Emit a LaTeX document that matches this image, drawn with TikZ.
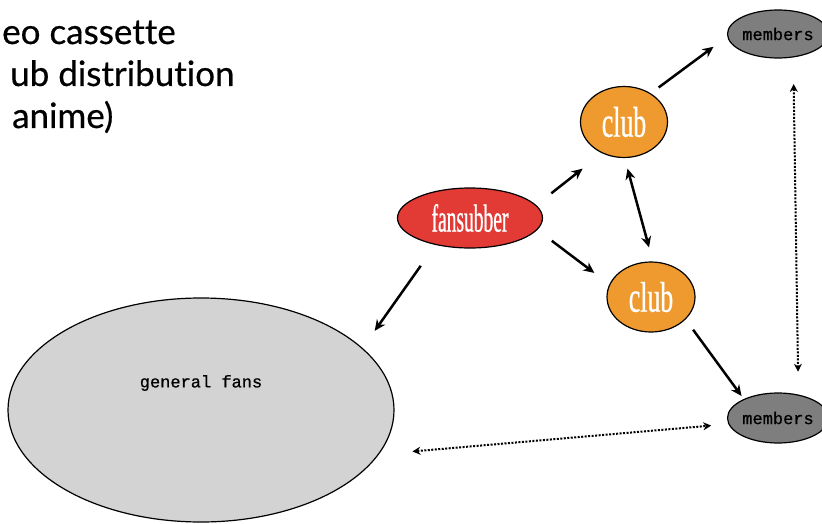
\documentclass[tikz,border=0pt]{standalone}
\usepackage{fontspec}
\usetikzlibrary{shapes.geometric,arrows.meta}
\newfontfamily\titlefont[Ligatures=NoCommon,FakeBold=0.5]{Lato}
\newfontfamily\fanfont[FakeStretch=0.5,FakeBold=0.6]{Liberation Serif}
\newfontfamily\clubfont[FakeStretch=0.6,FakeBold=0.6]{Liberation Serif}
\newfontfamily\memfont[FakeBold=0.8]{Liberation Mono}
\definecolor{fanred}{HTML}{E23B36}
\definecolor{cluborange}{HTML}{EE9A2E}
\definecolor{memgray}{HTML}{7E7E7E}
\definecolor{fangray}{HTML}{D3D3D3}
\begin{document}
\begin{tikzpicture}[x=1pt,y=-1pt,
  blob/.style={ellipse, draw=black, line width=1.2pt, inner sep=0pt},
  titletext/.style={anchor=base west, inner sep=0pt, font=\titlefont\fontsize{35}{35}\selectfont},
  arr/.style={line width=2.5pt, -{Stealth[length=11pt,width=10pt]}},
  darr/.style={line width=2pt, dash pattern=on 2pt off 1.5pt, {Stealth[length=8pt,width=8pt]}-{Stealth[length=8pt,width=8pt]}}]
\useasboundingbox (0,0) rectangle (822,524);
\fill[white] (0,0) rectangle (822,524);
% title lines
\node[titletext] (t1) at (2,44) {eo cassette};
\node[titletext] (t2) at (10,86) {ub distribution};
\node[titletext] (t3) at (12,128) {anime)};
% nodes
\node[blob, fill=fanred, minimum width=145pt, minimum height=60pt,
  text=white, font=\fanfont\fontsize{39}{39}\selectfont] (fan) at (470,218) {fansubber};
\node[blob, fill=cluborange, minimum width=87pt, minimum height=71pt,
  text=white, font=\clubfont\fontsize{43}{43}\selectfont] (clubT) at (624,122) {club};
\node[blob, fill=cluborange, minimum width=88pt, minimum height=70pt,
  text=white, font=\clubfont\fontsize{43}{43}\selectfont] (clubB) at (651,297) {club};
\node[blob, fill=memgray, minimum width=84pt, minimum height=48pt,
  font=\memfont\fontsize{17}{17}\selectfont] (memT) at (778,34) {members};
\node[blob, fill=memgray, minimum width=84pt, minimum height=50pt,
  font=\memfont\fontsize{17}{17}\selectfont] (memB) at (778,418) {members};
\node[blob, fill=fangray, minimum width=386pt, minimum height=224pt] (gf) at (201,410) {};
\node[font=\memfont\fontsize{17}{17}\selectfont, inner sep=0pt] (gft) at (201,383) {general fans};
% connectors
\draw[arr, shorten <=25.5pt, shorten >=21pt] (fan.218) -- (gf.21.6);
\draw[arr, shorten <=19.1pt, shorten >=24.8pt] (fan.11.8) -- (clubT.235.6);
\draw[arr, shorten <=18.1pt, shorten >=18.8pt] (fan.350.8) -- (clubB.163.1);
\draw[arr, {Stealth[length=11pt,width=10pt]}-{Stealth[length=11pt,width=10pt]}, shorten <=10.9pt, shorten >=14.5pt] (clubT.271.9) -- (clubB.87.2);
\draw[arr, shorten <=9.8pt, shorten >=17pt] (clubT.47.9) -- (memT.183.7);
\draw[arr, shorten <=12.7pt, shorten >=3.7pt] (clubB.327.5) -- (memB.151.1);
\draw[darr, shorten <=26.5pt, shorten >=22.8pt] (memT.303) -- (memB.49);
\draw[darr, shorten <=33.6pt, shorten >=17.2pt] (gf.346.6) -- (memB.187.8);
\end{tikzpicture}
\end{document}
